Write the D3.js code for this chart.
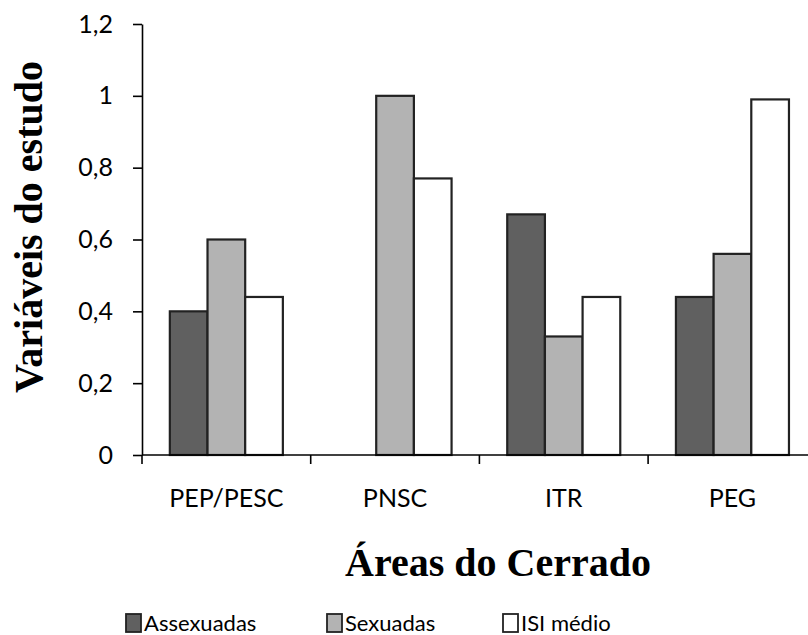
<!DOCTYPE html>
<html>
<head>
<meta charset="utf-8">
<script src="https://cdnjs.cloudflare.com/ajax/libs/d3/7.8.5/d3.min.js"></script>
<style>
  html, body { margin: 0; padding: 0; background: #fff; overflow: hidden; }
  svg { display: block; }
</style>
</head>
<body>
<div id="vis"></div>
<script>
// data
var categories = ["PEP/PESC", "PNSC", "ITR", "PEG"];
var seriesNames = ["Assexuadas", "Sexuadas", "ISI médio"];
var assexuadas = [0.40, 0, 0.67, 0.44];
var sexuadas = [0.60, 1.00, 0.33, 0.56];
var isiMedio = [0.44, 0.77, 0.44, 0.99];
var yTicks = [0, 0.2, 0.4, 0.6, 0.8, 1, 1.2];

var seriesValues = [assexuadas, sexuadas, isiMedio];
var fills = ["#606060", "#b3b3b3", "#ffffff"];

var width = 808, height = 635;
var svg = d3.select("#vis").append("svg")
  .attr("width", width)
  .attr("height", height);

// plot area (the right end runs past the picture edge, as in the original)
var plotLeft = 142, plotTop = 24, plotBottom = 455, bandW = 168.7;
var x = d3.scaleBand().domain(categories)
  .range([plotLeft, plotLeft + bandW * categories.length])
  .paddingInner(0).paddingOuter(0);
var x1 = d3.scaleBand().domain(seriesNames)
  .range([x.bandwidth() * 0.165, x.bandwidth() * 0.835]);
var y = d3.scaleLinear().domain([0, 1.2]).range([plotBottom, plotTop]);

var tickFont = "Lato, 'Open Sans', sans-serif";

// y axis
var yAxis = svg.append("g")
  .attr("transform", "translate(" + plotLeft + ",0)")
  .call(d3.axisLeft(y).tickValues(yTicks).tickSize(9).tickSizeOuter(0).tickPadding(20)
    .tickFormat(function(d) { return String(d).replace(".", ","); }));
yAxis.select(".domain").attr("stroke", "#000").attr("stroke-width", 1.6);
yAxis.selectAll(".tick line").attr("stroke", "#000").attr("stroke-width", 1.6);
yAxis.selectAll(".tick text")
  .attr("font-family", tickFont).attr("font-size", 25).attr("fill", "#000");

// bars
var rows = [];
categories.forEach(function(c, i) {
  seriesNames.forEach(function(s, j) {
    rows.push({cat: c, series: s, value: seriesValues[j][i], fill: fills[j]});
  });
});

svg.append("g").selectAll("rect")
  .data(rows.filter(function(d) { return d.value > 0; }))
  .enter().append("rect")
    .attr("x", function(d) { return x(d.cat) + x1(d.series); })
    .attr("y", function(d) { return y(d.value); })
    .attr("width", x1.bandwidth())
    .attr("height", function(d) { return plotBottom - y(d.value); })
    .attr("fill", function(d) { return d.fill; })
    .attr("stroke", "#222")
    .attr("stroke-width", 2.2);

// x axis: labels at band centres, ticks at band edges
var xAxis = svg.append("g")
  .attr("transform", "translate(0," + plotBottom + ")")
  .call(d3.axisBottom(x).tickSize(0).tickPadding(34));
xAxis.select(".domain").remove();
xAxis.selectAll(".tick text")
  .attr("font-family", tickFont).attr("font-size", 25).attr("fill", "#000");

svg.append("line")
  .attr("x1", plotLeft).attr("x2", x.range()[1])
  .attr("y1", plotBottom).attr("y2", plotBottom)
  .attr("stroke", "#000").attr("stroke-width", 1.6);

var edges = categories.map(function(c) { return x(c); }).concat([x.range()[1]]);
svg.append("g").selectAll("line")
  .data(edges)
  .enter().append("line")
    .attr("x1", function(d) { return d; }).attr("x2", function(d) { return d; })
    .attr("y1", plotBottom).attr("y2", plotBottom + 9)
    .attr("stroke", "#000").attr("stroke-width", 1.6);

// axis titles
var titleFont = "'Liberation Serif', 'Times New Roman', serif";
svg.append("text")
  .attr("transform", "translate(42,227) rotate(-90)")
  .attr("text-anchor", "middle")
  .attr("font-family", titleFont).attr("font-weight", "bold").attr("font-size", 40)
  .attr("fill", "#000")
  .text("Variáveis do estudo");

svg.append("text")
  .attr("x", 498).attr("y", 576)
  .attr("text-anchor", "middle")
  .attr("font-family", titleFont).attr("font-weight", "bold").attr("font-size", 40)
  .attr("fill", "#000")
  .text("Áreas do Cerrado");

// legend
var legendX = [126, 327, 503];
var legend = svg.append("g").selectAll("g")
  .data(seriesNames)
  .enter().append("g")
    .attr("transform", function(d, i) { return "translate(" + legendX[i] + ",614)"; });
legend.append("rect")
  .attr("width", 15).attr("height", 18)
  .attr("fill", function(d, i) { return fills[i]; })
  .attr("stroke", "#222").attr("stroke-width", 1.8);
legend.append("text")
  .attr("x", 18).attr("y", 17)
  .attr("font-family", tickFont).attr("font-size", 22).attr("fill", "#000")
  .text(function(d) { return d; });
</script>
</body>
</html>
